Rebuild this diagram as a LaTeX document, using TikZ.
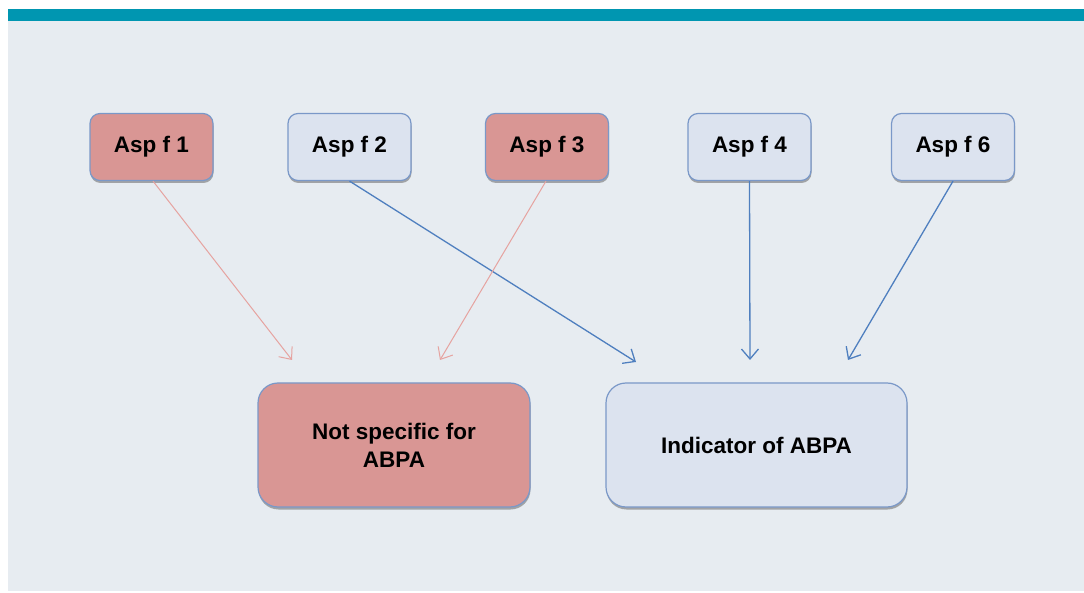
\documentclass[tikz,border=0pt]{standalone}
\usepackage{fontspec}
\setmainfont{Liberation Sans}
\usetikzlibrary{arrows.meta,shadows}
\definecolor{bgc}{HTML}{E7ECF1}
\definecolor{teal1}{HTML}{0096B1}
\definecolor{pinkf}{HTML}{D99694}
\definecolor{bluef}{HTML}{DCE3EF}
\definecolor{edgec}{HTML}{7A98C8}
\definecolor{bluel}{HTML}{4F7FBF}
\definecolor{pinkl}{HTML}{E6A3A0}
\tikzset{
  box/.style={draw=edgec, line width=1.2pt, rounded corners=10pt, font=\bfseries\fontsize{22.5}{28}\selectfont,
    minimum width=123pt, minimum height=67pt, inner sep=0pt, align=center,
    drop shadow={shadow xshift=0.5pt, shadow yshift=-2.5pt, opacity=0.45, fill=black!70}},
  bigbox/.style={box, rounded corners=20pt, minimum height=124pt},
  redbox/.style={fill=pinkf},
  bluebox/.style={fill=bluef},
  bluearrow/.style={draw=bluel, line width=1.3pt, -{Straight Barb[length=10pt,width=17pt,line width=1.3pt]}},
  pinkarrow/.style={draw=pinkl, line width=1pt, -{Straight Barb[length=10pt,width=17pt,line width=1pt]}}
}
\begin{document}
\begin{tikzpicture}[x=1pt,y=-1pt]
\useasboundingbox (0,0) rectangle (1084,593);
\fill[white] (0,0) rectangle (1084,593);
\fill[bgc] (8,21) rectangle (1084,591);
\fill[teal1] (8,9) rectangle (1084,21);
\node[box,redbox] (a1) at (151.5,147) {Asp f 1};
\node[box,bluebox] (a2) at (349.5,147) {Asp f 2};
\node[box,redbox] (a3) at (547,147) {Asp f 3};
\node[box,bluebox] (a4) at (749.5,147) {Asp f 4};
\node[box,bluebox] (a6) at (953,147) {Asp f 6};
\node[bigbox,redbox,minimum width=272pt] (ns) at (394,445) {Not specific for\\ABPA};
\node[bigbox,bluebox,minimum width=301pt] (ind) at (756.5,445) {Indicator of ABPA};
\coordinate (e1) at (292,360);
\coordinate (e2) at (636,362);
\coordinate (e3) at (440,360);
\coordinate (e4) at (750,360);
\coordinate (e6) at (848,360);
\draw[pinkarrow] (a1.south) ++(1.5,0) -- (e1);
\draw[bluearrow] (a2.south) -- (e2);
\draw[pinkarrow] (a3.south) ++(-1,0) -- (e3);
\draw[bluearrow] (a4.south) -- (e4);
\draw[bluearrow] (a6.south) -- (e6);
\end{tikzpicture}
\end{document}
